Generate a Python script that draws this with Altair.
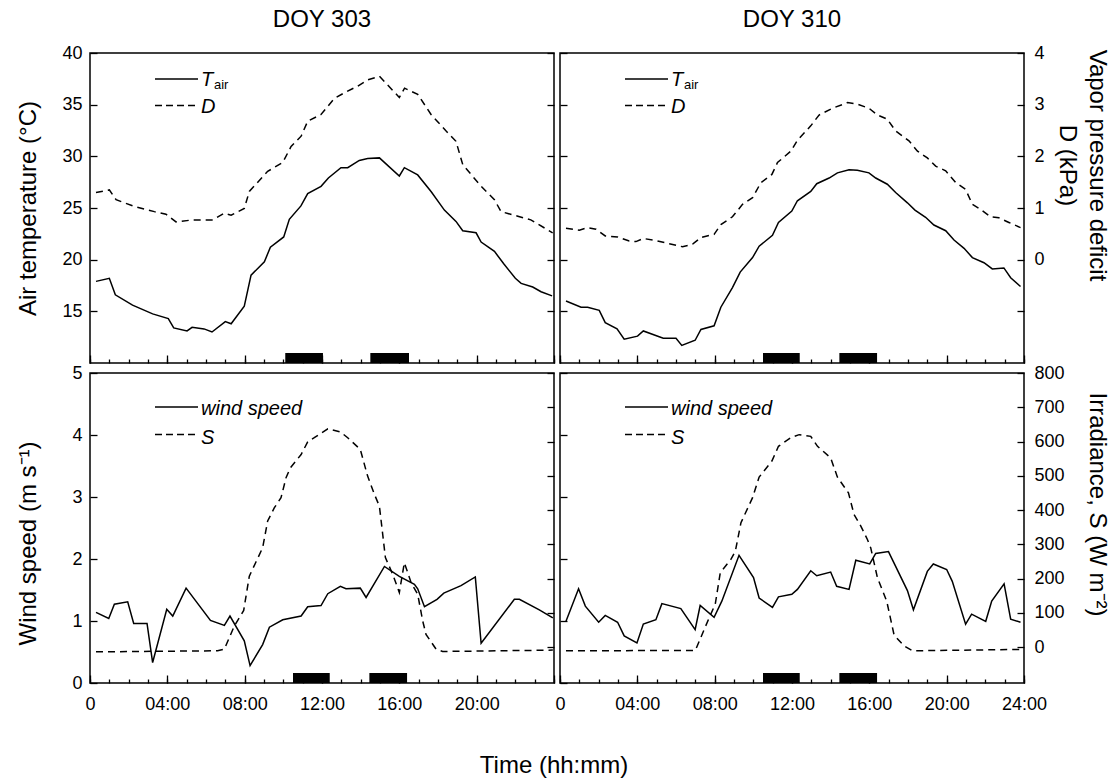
import altair as alt
import pandas as pd

FONT = "Liberation Sans"
W, H = 464, 310

# ---------------- data ----------------
# DOY 303 air temperature (deg C)
t303_T = [0.31, 1.0, 1.31, 2.2, 3.24, 4.05, 4.33, 5.02, 5.28, 5.9, 6.31, 7.0, 7.3, 7.98, 8.33,
          9.02, 9.33, 10.02, 10.31, 10.91, 11.26, 11.95, 12.33, 12.98, 13.33, 13.93, 14.36, 14.97,
          16.0, 16.26, 16.95, 17.64, 18.33, 18.93, 19.28, 19.97, 20.23, 20.92, 21.4, 22.0, 22.3,
          22.9, 23.33, 23.9]
T303 = [17.9, 18.2, 16.6, 15.6, 14.75, 14.3, 13.4, 13.1, 13.45, 13.3, 13.0, 14.0, 13.8, 15.5, 18.5,
        19.8, 21.2, 22.2, 23.9, 25.2, 26.4, 27.1, 27.9, 28.9, 28.9, 29.6, 29.8, 29.85,
        28.1, 28.9, 28.2, 26.6, 24.8, 23.7, 22.8, 22.6, 21.7, 20.8, 19.6, 18.2, 17.7,
        17.35, 16.9, 16.5]

# DOY 303 vapour pressure deficit (kPa)
t303_D = [0.31, 1.0, 1.35, 2.29, 3.33, 3.93, 4.45, 5.31, 6.35, 6.95, 7.3, 7.98, 8.24, 9.19, 9.97,
          10.4, 10.92, 11.26, 11.95, 12.64, 13.16, 13.85, 14.36, 14.97, 16.0, 16.27, 16.95, 17.64,
          18.42, 18.93, 19.28, 20.23, 20.92, 21.26, 22.13, 22.8, 23.93]
D303 = [1.30, 1.35, 1.16, 1.03, 0.93, 0.88, 0.73, 0.77, 0.77, 0.90, 0.86, 0.99, 1.32, 1.71, 1.88,
        2.19, 2.39, 2.68, 2.81, 3.12, 3.23, 3.36, 3.48, 3.55, 3.14, 3.32, 3.20, 2.81,
        2.49, 2.29, 1.84, 1.42, 1.16, 0.93, 0.84, 0.77, 0.52]

# DOY 310 air temperature
t310_T = [0.31, 1.09, 1.43, 2.03, 2.34, 2.95, 3.32, 4.01, 4.31, 5.34, 6.0, 6.3, 6.99, 7.29, 7.97,
          8.32, 8.92, 9.32, 9.96, 10.3, 10.99, 11.3, 11.99, 12.28, 12.97, 13.28, 13.92, 14.35,
          14.95, 15.38, 15.98, 16.33, 16.93, 17.36, 17.97, 18.36, 18.91, 19.34, 19.95, 20.38,
          20.9, 21.33, 21.93, 22.36, 22.96, 23.31, 23.82]
T310 = [16.0, 15.4, 15.4, 15.1, 13.9, 13.3, 12.3, 12.6, 13.1, 12.4, 12.4, 11.7, 12.2, 13.25, 13.6,
        15.4, 17.3, 18.8, 20.2, 21.3, 22.35, 23.6, 24.7, 25.7, 26.6, 27.35, 27.9, 28.4,
        28.7, 28.65, 28.4, 27.9, 27.3, 26.5, 25.5, 24.8, 24.1, 23.35, 22.8, 21.9,
        21.1, 20.2, 19.7, 19.1, 19.2, 18.25, 17.4]

# DOY 310 vapour pressure deficit
t310_D = [0.31, 1.0, 1.43, 1.86, 2.34, 2.98, 3.58, 3.93, 4.31, 4.96, 5.65, 6.34, 6.86, 7.29, 7.97,
          8.32, 8.92, 9.44, 9.96, 10.39, 10.96, 11.25, 11.94, 12.28, 12.97, 13.4, 14.09, 14.87,
          15.38, 15.98, 16.42, 16.93, 17.36, 18.05, 18.49, 19.0, 19.43, 19.95, 20.47, 20.98,
          21.33, 21.76, 22.27, 22.7, 23.22, 23.82]
D310 = [0.61, 0.57, 0.62, 0.59, 0.46, 0.44, 0.36, 0.35, 0.41, 0.37, 0.31, 0.25, 0.30, 0.43, 0.49,
        0.68, 0.83, 1.07, 1.20, 1.49, 1.65, 1.88, 2.10, 2.31, 2.59, 2.80, 2.93, 3.04,
        3.01, 2.93, 2.80, 2.72, 2.49, 2.30, 2.10, 1.97, 1.81, 1.72, 1.49, 1.36,
        1.07, 0.97, 0.83, 0.81, 0.72, 0.62]

# DOY 303 wind speed (m/s)
t303_W = [0.31, 0.97, 1.26, 1.95, 2.26, 2.95, 3.24, 3.97, 4.28, 4.97, 6.23, 6.95, 7.24, 7.98, 8.28,
          8.93, 9.28, 9.97, 10.92, 11.26, 11.95, 12.3, 12.95, 13.24, 13.98, 14.28, 15.23, 16.0,
          16.78, 16.95, 17.3, 17.95, 18.3, 19.19, 19.93, 20.23, 21.95, 22.21, 23.24, 23.94]
W303 = [1.14, 1.04, 1.27, 1.31, 0.96, 0.96, 0.33, 1.19, 1.08, 1.53, 1.01, 0.93, 1.08, 0.68, 0.28,
        0.62, 0.90, 1.02, 1.08, 1.23, 1.25, 1.44, 1.56, 1.52, 1.53, 1.38, 1.88, 1.72,
        1.59, 1.52, 1.23, 1.35, 1.45, 1.57, 1.71, 0.64, 1.35, 1.35, 1.18, 1.05]

# DOY 303 irradiance (W/m2)
t303_S = [0.31, 6.6, 6.95, 7.47, 7.95, 8.24, 8.59, 8.93, 9.19, 9.53, 9.88, 10.14, 10.36, 10.92,
          11.26, 11.6, 12.3, 12.95, 13.33, 13.98, 14.36, 14.71, 14.97, 15.14, 15.28, 15.66, 16.0,
          16.26, 16.61, 16.95, 17.21, 17.38, 17.9, 18.24, 23.94]
S303 = [-14, -11, -6, 62, 107, 207, 249, 290, 368, 406, 436, 494, 523, 562,
        599, 611, 637, 628, 611, 577, 499, 446, 411, 329, 261, 212, 159,
        246, 188, 154, 76, 37, -6, -13, -9]

# DOY 310 wind speed
t310_W = [0.31, 0.96, 1.31, 2.0, 2.34, 2.98, 3.32, 3.98, 4.31, 4.96, 5.27, 6.25, 6.99, 7.25, 7.97,
          8.37, 9.26, 10.01, 10.3, 10.99, 11.3, 11.99, 12.28, 12.97, 13.28, 14.0, 14.31, 14.95,
          15.3, 16.02, 16.33, 16.99, 17.97, 18.28, 19.0, 19.31, 20.0, 20.29, 20.98, 21.29, 22.02,
          22.33, 22.97, 23.31, 23.82]
W310 = [0.995, 1.52, 1.24, 0.98, 1.09, 0.98, 0.76, 0.645, 0.95, 1.02, 1.28, 1.20, 0.86, 1.25, 1.06,
        1.32, 2.06, 1.70, 1.37, 1.22, 1.39, 1.43, 1.51, 1.81, 1.73, 1.79, 1.56, 1.51,
        1.98, 1.92, 2.09, 2.12, 1.49, 1.18, 1.80, 1.92, 1.83, 1.64, 0.95, 1.11, 0.995,
        1.32, 1.60, 1.03, 0.98]

# DOY 310 irradiance
t310_S = [0.31, 7.0, 7.72, 8.03, 8.29, 8.84, 9.07, 9.36, 9.96, 10.3, 10.96, 11.3, 11.94, 12.37,
          12.97, 13.32, 14.0, 14.35, 14.92, 15.21, 15.56, 15.9, 16.07, 16.42, 16.9, 17.28, 17.8,
          18.24, 23.82]
S310 = [-11, -10, 86, 125, 217, 256, 280, 363, 436, 496, 543, 586, 611, 620,
        615, 586, 552, 496, 450, 387, 353, 314, 290, 202, 134, 35, 3,
        -11, -7]

# measurement periods (black bars), hours
bars_tl_start = [10.1, 14.5]
bars_tl_end = [12.05, 16.5]
bars_start = [10.5, 14.45]
bars_end = [12.4, 16.4]

# axis tick values
x_major_ticks = [0, 4, 8, 12, 16, 20, 24]
x_minor_ticks = list(range(25))
T_ticks = [15, 20, 25, 30, 35, 40]
D_ticks = [-1, 0, 1, 2, 3, 4]
W_ticks = [0, 1, 2, 3, 4, 5]
S_ticks = [0, 100, 200, 300, 400, 500, 600, 700, 800]

T_domain = [10, 40]
D_domain = [-2, 4]
W_domain = [0, 5]
S_domain = [-105, 800]

# ---------------- helpers ----------------
XS = alt.Scale(domain=[0, 24], nice=False, zero=False)
ONE = pd.DataFrame({"k": [0]})
TITLE_SIZE = 24


def series(t, v):
    return pd.DataFrame({"t": t, "v": v})


def x_major(show_labels, show24):
    kw = dict(orient="bottom", values=x_major_ticks, tickSize=8, offset=-8, domain=False,
              grid=False, tickWidth=1.3, tickColor="black")
    if show_labels:
        hide24 = "" if show24 else "datum.value == 24 ? '' : "
        expr = ("datum.value == 0 ? '0' : " + hide24 +
                "((datum.value < 10 ? '0' : '') + datum.value + ':00')")
        kw.update(labels=True, labelExpr=expr, labelPadding=12, labelFontSize=18,
                  labelFont=FONT, labelColor="black", labelOverlap=False, labelFlush=False)
    else:
        kw.update(labels=False)
    return alt.Axis(**kw)


def x_minor():
    return alt.Axis(orient="bottom", values=x_minor_ticks, tickSize=4, offset=-4, domain=False,
                    grid=False, labels=False, tickWidth=1.3, tickColor="black")


def y_axis(orient, values, show_labels, title_x=0, title_y=0, label_expr=""):
    kw = dict(orient=orient, values=values, tickSize=7, offset=-7, domain=False, grid=False,
              tickWidth=1.3, tickColor="black", labels=show_labels)
    if show_labels:
        kw.update(labelPadding=8 if orient == "left" else 10, labelFontSize=18, labelFont=FONT,
                  labelColor="black", labelFlush=False, labelOverlap=False)
        if label_expr:
            kw["labelExpr"] = label_expr
        kw.update(titleX=title_x, titleY=title_y,
                  titleAngle=-90 if orient == "left" else 90,
                  titleBaseline="middle", titleAlign="center", titleFontSize=TITLE_SIZE,
                  titleFont=FONT, titleFontWeight="normal", titleColor="black",
                  titleLineHeight=30)
    return alt.Axis(**kw)


def legend_layers(lab1, lab1_sub, lab2, y1, y2, tb1, tb2):
    layers = [
        alt.Chart(ONE).mark_rule(color="black", strokeWidth=1.4).encode(
            x=alt.value(65), x2=alt.value(108), y=alt.value(y1)),
        alt.Chart(ONE).mark_rule(color="black", strokeWidth=1.4, strokeDash=[7, 4]).encode(
            x=alt.value(65), x2=alt.value(108), y=alt.value(y2)),
        alt.Chart(ONE).mark_text(text=lab1, font=FONT, fontSize=20, fontStyle="italic",
                                 align="left", baseline="alphabetic", color="black").encode(
            x=alt.value(111), y=alt.value(tb1)),
        alt.Chart(ONE).mark_text(text=lab2, font=FONT, fontSize=20, fontStyle="italic",
                                 align="left", baseline="alphabetic", color="black").encode(
            x=alt.value(111), y=alt.value(tb2)),
    ]
    if lab1_sub:
        layers.append(
            alt.Chart(ONE).mark_text(text=lab1_sub, font=FONT, fontSize=13, align="left",
                                     baseline="alphabetic", color="black").encode(
                x=alt.value(124), y=alt.value(tb1 + 3)))
    return layers


def panel(solid_df, dash_df, s_dom, d_dom, s_axis, d_axis, s_title, d_title,
          b_start, b_end, xlabels, show24, legend, title_text=""):
    solid = alt.Chart(solid_df).mark_line(color="black", strokeWidth=1.5).encode(
        x=alt.X("t:Q", scale=XS, axis=x_major(xlabels, show24), title=None),
        y=alt.Y("v:Q", scale=alt.Scale(domain=s_dom, nice=False, zero=False),
                axis=s_axis, title=s_title),
    )
    dashed = alt.Chart(dash_df).mark_line(color="black", strokeWidth=1.5,
                                          strokeDash=[7, 5]).encode(
        x=alt.X("t:Q", scale=XS, axis=x_minor(), title=None),
        y=alt.Y("v:Q", scale=alt.Scale(domain=d_dom, nice=False, zero=False),
                axis=d_axis, title=d_title),
    )
    bars = alt.Chart(pd.DataFrame({"s": b_start, "e": b_end})).mark_rect(color="black").encode(
        x=alt.X("s:Q", scale=XS, axis=None),
        x2="e:Q",
        y=alt.value(H - 10),
        y2=alt.value(H),
    )
    ch = alt.layer(solid, dashed, bars, *legend).resolve_scale(y="independent").resolve_axis(
        x="independent", y="independent")
    props = dict(width=W, height=H)
    if title_text:
        props["title"] = alt.TitleParams(title_text, offset=12, fontSize=TITLE_SIZE, font=FONT,
                                         fontWeight="normal", color="black", anchor="middle")
    return ch.properties(**props)


top_leg = legend_layers("T", "air", "D", 26, 52.5, 33, 60)
bot_leg = legend_layers("wind speed", "", "S", 34, 61.5, 41.5, 71)

tl = panel(series(t303_T, T303), series(t303_D, D303), T_domain, D_domain,
           y_axis("left", T_ticks, True, title_x=-69, title_y=155),
           y_axis("right", D_ticks, False),
           "Air temperature (°C)", None,
           bars_tl_start, bars_tl_end, False, False, top_leg, "DOY 303")

tr = panel(series(t310_T, T310), series(t310_D, D310), T_domain, D_domain,
           y_axis("left", T_ticks, False),
           y_axis("right", D_ticks, True, title_x=79, title_y=112,
                  label_expr="datum.value < 0 ? '' : datum.label"),
           None, ["Vapor pressure deficit", "D (kPa)"],
           bars_start, bars_end, False, False, top_leg, "DOY 310")

bl = panel(series(t303_W, W303), series(t303_S, S303), W_domain, S_domain,
           y_axis("left", W_ticks, True, title_x=-69, title_y=170),
           y_axis("right", S_ticks, False),
           "Wind speed (m s⁻¹)", None,
           bars_start, bars_end, True, False, bot_leg)

br = panel(series(t310_W, W310), series(t310_S, S310), W_domain, S_domain,
           y_axis("left", W_ticks, False),
           y_axis("right", S_ticks, True, title_x=79, title_y=131),
           None, "Irradiance, S (W m⁻²)",
           bars_start, bars_end, True, True, bot_leg)

chart = alt.concat(tl, tr, bl, br, columns=2, spacing={"row": 10, "column": 6},
                   bounds="flush").properties(
    title=alt.TitleParams("Time (hh:mm)", orient="bottom", anchor="middle", offset=40, dx=-8,
                          fontSize=TITLE_SIZE, font=FONT, fontWeight="normal", color="black"),
    padding={"left": 15, "top": 7, "right": 3, "bottom": 0},
).configure_view(
    stroke="black", strokeWidth=1.5
).configure_axis(
    grid=False, domain=False, labelFont=FONT, titleFont=FONT, labelColor="black",
    titleColor="black", tickColor="black"
).configure_title(font=FONT, color="black")

chart.save("out.html", embed_options={"renderer": "svg", "actions": False})
